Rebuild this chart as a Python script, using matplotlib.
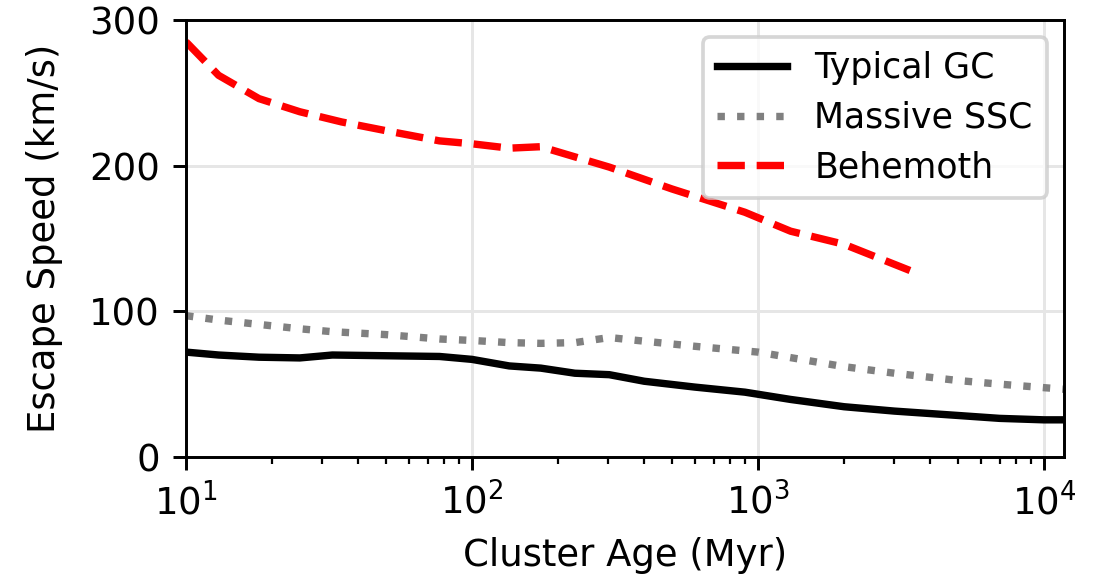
import numpy as np
import matplotlib
matplotlib.use("Agg")
import matplotlib.pyplot as plt

# Ages (Myr) and escape speeds (km/s)
age_gc = [10, 13, 18, 25, 32.5, 50, 77, 100, 135, 174, 229, 302, 400, 600, 900, 1300, 2000, 3000, 5000, 7000, 10000, 11750]
v_gc = [72, 70, 68.5, 68, 70, 69.5, 69, 67, 62.5, 61, 57.5, 56.5, 52, 48, 44.5, 39.5, 34.5, 31.5, 28.5, 26.5, 25.5, 25.5]

age_ssc = [10, 13, 18, 25, 32.5, 50, 77, 100, 135, 174, 229, 302, 400, 600, 1000, 2000, 3000, 5000, 7000, 11750]
v_ssc = [97, 94, 91, 88, 86, 84, 81, 80, 78.5, 78, 78.5, 82, 79.5, 76, 72, 62, 57.5, 52.5, 50, 46.5]

age_beh = [10, 13, 18, 25, 35, 50, 77, 100, 135, 174, 302, 500, 900, 1300, 2000, 3400]
v_beh = [285, 262, 246, 237, 230, 224, 217, 215, 212, 213, 199, 184, 168, 155, 146, 128]

DPI = 266
plt.rcParams['font.size'] = 10
fig = plt.figure(figsize=(1094 / DPI, 584 / DPI), dpi=DPI)
ax = fig.add_axes([0.170, 0.2175, 0.8026, 0.7483])

ax.plot(age_gc, v_gc, color='black', lw=2, label='Typical GC')
ax.plot(age_ssc, v_ssc, color='grey', lw=2, ls=':', label='Massive SSC')
ax.plot(age_beh, v_beh, color='red', lw=2, ls='--', label='Behemoth')

ax.set_xscale('log')
ax.set_xlim(10, 11750)
ax.set_ylim(0, 300)
ax.set_yticks([0, 100, 200, 300])
ax.grid(True, color='#e6e6e6', lw=0.8)
ax.set_axisbelow(True)
ax.set_xlabel('Cluster Age (Myr)')
ax.set_ylabel('Escape Speed (km/s)', labelpad=7)
ax.legend(loc='upper right', fontsize=9.4, labelspacing=0.45)

fig.savefig('out.png', dpi=DPI)
